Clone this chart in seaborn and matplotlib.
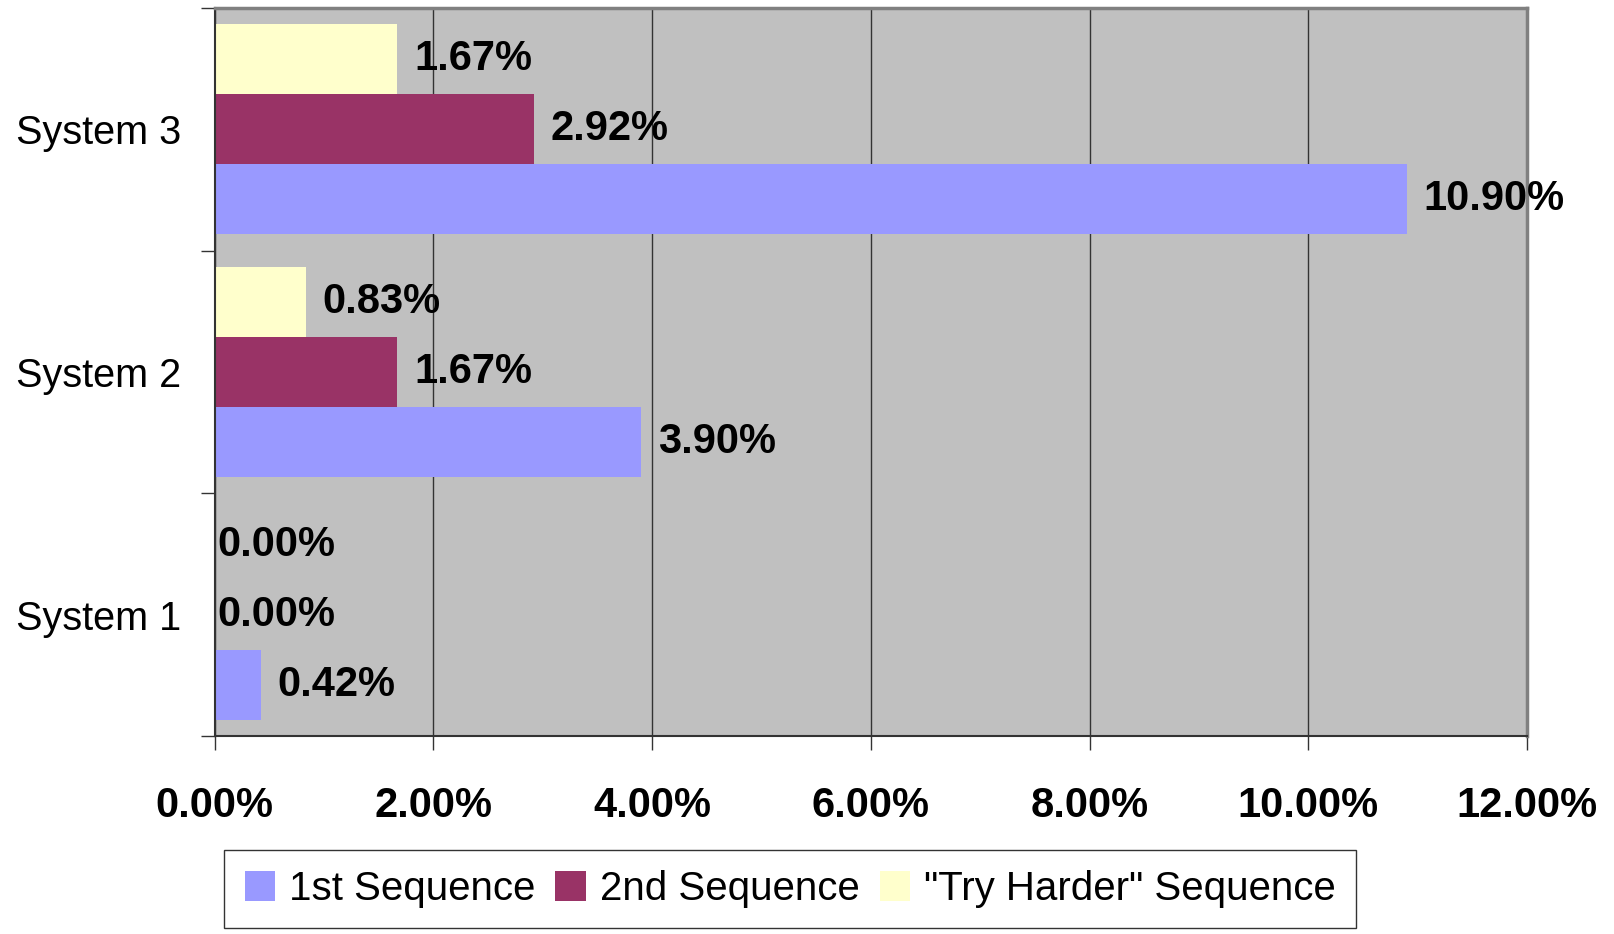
import matplotlib
matplotlib.use("Agg")
import matplotlib.pyplot as plt
import seaborn as sns
import pandas as pd

systems = ["System 1", "System 2", "System 3"]
series = ["1st Sequence", "2nd Sequence", "\"Try Harder\" Sequence"]
first_seq = [0.42, 3.90, 10.90]
second_seq = [0.00, 1.67, 2.92]
try_harder = [0.00, 0.83, 1.67]
xticks = [0, 2, 4, 6, 8, 10, 12]
colors = ["#9999FF", "#993366", "#FFFFCC"]

rows = []
for name, vals in zip(series, [first_seq, second_seq, try_harder]):
    for s, v in zip(systems, vals):
        rows.append({"system": s, "series": name, "value": v})
df = pd.DataFrame(rows)

sns.set_style("white")
plt.rcParams["font.family"] = ["Liberation Sans", "DejaVu Sans"]
plt.rcParams["text.color"] = "black"
plt.rcParams["xtick.color"] = "black"
plt.rcParams["ytick.color"] = "black"

fig = plt.figure(figsize=(16.15, 9.34), dpi=100)
ax = fig.add_axes([0.133, 0.212, 0.8125, 0.7794])
ax.set_facecolor("#C0C0C0")

sns.barplot(data=df, x="value", y="system", hue="series", order=systems,
            hue_order=series, palette=dict(zip(series, colors)), orient="h",
            width=0.865, gap=0, saturation=1, linewidth=0, ax=ax)

ax.set_xlim(0, 12)
ax.set_ylim(-0.5, 2.5)
ax.set_xlabel("")
ax.set_ylabel("")

# grid
ax.set_xticks(xticks)
ax.set_xticklabels([f"{t:.2f}%" for t in xticks], fontsize=30, fontweight="bold")
ax.xaxis.grid(True, color="#333333", linewidth=1)
ax.set_axisbelow(True)
ax.tick_params(axis="x", direction="out", length=10, width=1, color="#333333", pad=26, bottom=True)

ax.set_yticks([0, 1, 2])
ax.set_yticklabels(systems, fontsize=28.5)
ax.tick_params(axis="y", which="major", length=0, pad=24)
ax.set_yticks([-0.5, 0.5, 1.5, 2.5], minor=True)
ax.tick_params(axis="y", which="minor", direction="out", length=10, width=1, color="#333333", left=True)

for side in ["left", "bottom"]:
    ax.spines[side].set_color("#333333")
    ax.spines[side].set_linewidth(1.5)
for side in ["top", "right"]:
    ax.spines[side].set_color("#808080")
    ax.spines[side].set_linewidth(2.5)

# value labels
for cont in ax.containers:
    for bar in cont:
        w = bar.get_width()
        y = bar.get_y() + bar.get_height() / 2
        ax.annotate(f"{w:.2f}%", (w, y), xytext=(12 if w > 0 else 2, 0),
                    textcoords="offset points", ha="left", va="center",
                    fontsize=30, fontweight="bold", color="black")

handles, labels = ax.get_legend_handles_labels()
ax.get_legend().remove()
leg = fig.legend(handles, labels, loc="upper left", bbox_to_anchor=(0.139, 0.09),
                 ncol=3, fontsize=29, frameon=True, fancybox=False,
                 edgecolor="black", handlelength=0.75, handleheight=0.75,
                 handletextpad=0.35, columnspacing=0.5, borderpad=0.5,
                 borderaxespad=0)
leg.get_frame().set_linewidth(1)

fig.savefig("out.png", dpi=100)
